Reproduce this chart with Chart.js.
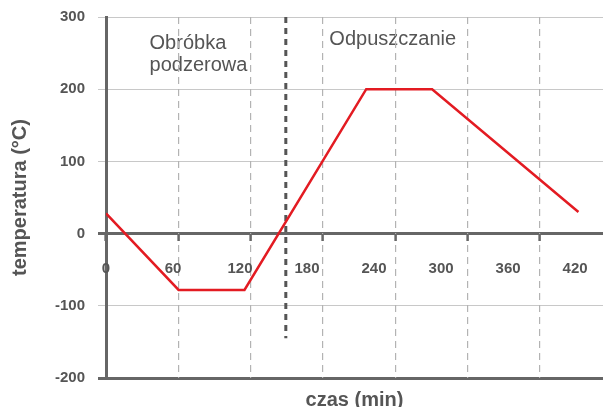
<!DOCTYPE html>
<html>
<head>
<meta charset="utf-8">
<script src="https://cdn.jsdelivr.net/npm/chart.js@4"></script>
<style>
html, body { margin: 0; padding: 0; background: #fff; overflow: hidden; }
#wrap { width: 603px; height: 407px; }
</style>
</head>
<body>
<div id="wrap"><canvas id="chart"></canvas></div>
<script>
// heat treatment profile: time (min) vs temperature (°C)
const timeMin = [0, 65, 124, 233, 292, 423];
const tempC = [28, -78, -78, 200, 200, 30];

// boundary between the two stages
const stageTime = [161, 161];
const stageTemp = [300, -145];

const xTicks = [0, 60, 120, 180, 240, 300, 360, 420];
const yTicks = [-200, -100, 0, 100, 200, 300];

const stageNames = [['Obróbka', 'podzerowa'], ['Odpuszczanie']];
const stageLabelX = [39, 200];
const stageLabelY = [256, 261];

const FAMILY = '"Liberation Sans", Arial, sans-serif';
const GREY = '#555';
const DARK = '#666';

const isDark = (c) => c.tick && (c.tick.value === 0 || c.tick.value === -200);

const stageText = {
	id: 'stageText',
	beforeDraw(chart) {
		const { ctx, scales: { x, y } } = chart;
		ctx.save();
		ctx.fillStyle = GREY;
		ctx.font = '20px ' + FAMILY;
		ctx.textBaseline = 'alphabetic';
		stageNames.forEach((lines, i) => {
			const px = x.getPixelForValue(stageLabelX[i]);
			const py = y.getPixelForValue(stageLabelY[i]);
			lines.forEach((t, j) => ctx.fillText(t, px, py + j * 22));
		});
		ctx.restore();
	}
};

new Chart(document.getElementById('chart'), {
	type: 'line',
	data: {
		datasets: [
			{
				data: timeMin.map((t, i) => ({ x: t, y: tempC[i] })),
				borderColor: '#e31b22',
				borderWidth: 2.5,
				pointRadius: 0,
				tension: 0,
				xAxisID: 'x', yAxisID: 'y'
			},
			{
				data: stageTime.map((t, i) => ({ x: t, y: stageTemp[i] })),
				borderColor: GREY,
				borderWidth: 3,
				borderDash: [6, 5],
				pointRadius: 0,
				xAxisID: 'x', yAxisID: 'y'
			}
		]
	},
	options: {
		responsive: true,
		maintainAspectRatio: false,
		animation: false,
		layout: { padding: { top: 17, right: 0, bottom: 0, left: 0 } },
		plugins: { legend: { display: false }, tooltip: { enabled: false } },
		scales: {
			y: {
				type: 'linear', position: 'left', min: -200, max: 300,
				afterBuildTicks: (s) => { s.ticks = yTicks.map(v => ({ value: v })); },
				afterFit: (s) => { s.width = 106; s.paddingTop = 0; s.paddingBottom = 0; },
				grid: {
					color: (c) => isDark(c) ? DARK : '#c8c8c8',
					lineWidth: (c) => isDark(c) ? 3 : 1,
					tickLength: 8
				},
				border: { color: DARK, width: 3 },
				ticks: { padding: 13, color: GREY, font: { family: FAMILY, size: 15, weight: 'bold' } },
				title: {
					display: true, text: 'temperatura (°C)', color: GREY,
					font: { family: FAMILY, size: 20, weight: 'bold', lineHeight: 1 },
					padding: { top: 10, bottom: 0 }
				}
			},
			x: {
				type: 'linear', position: { y: 0 }, min: 0, max: 445,
				afterBuildTicks: (s) => { s.ticks = xTicks.map(v => ({ value: v })); },
				afterFit: (s) => { s.paddingLeft = 0; s.paddingRight = 0; },
				grid: { display: false, drawTicks: false },
				border: { display: false },
				ticks: { padding: 26, color: GREY, maxRotation: 0, autoSkip: false, font: { family: FAMILY, size: 15, weight: 'bold' } }
			},
			xg: {
				type: 'linear', axis: 'x', position: { y: 0 }, min: 0, max: 412.4,
				afterFit: (s) => { s.paddingLeft = 0; s.paddingRight = 0; },
				ticks: { display: false, stepSize: 60, includeBounds: false },
				grid: {
					color: '#b3b3b3', lineWidth: 1.2,
					tickColor: DARK, tickLength: 7, tickWidth: 2.5, tickBorderDash: []
				},
				border: { display: false, dash: [7, 5] }
			},
			xb: {
				type: 'linear', axis: 'x', position: 'bottom', min: 0, max: 445,
				afterFit: (s) => { s.height = 29; s.paddingLeft = 0; s.paddingRight = 0; },
				ticks: { display: false },
				grid: { display: false, drawTicks: false },
				border: { display: false },
				title: {
					display: true, text: 'czas (min)', color: GREY,
					font: { family: FAMILY, size: 20, weight: 'bold', lineHeight: 0.7 },
					padding: { top: 0, bottom: 0 }
				}
			}
		}
	},
	plugins: [stageText]
});
</script>
</body>
</html>
